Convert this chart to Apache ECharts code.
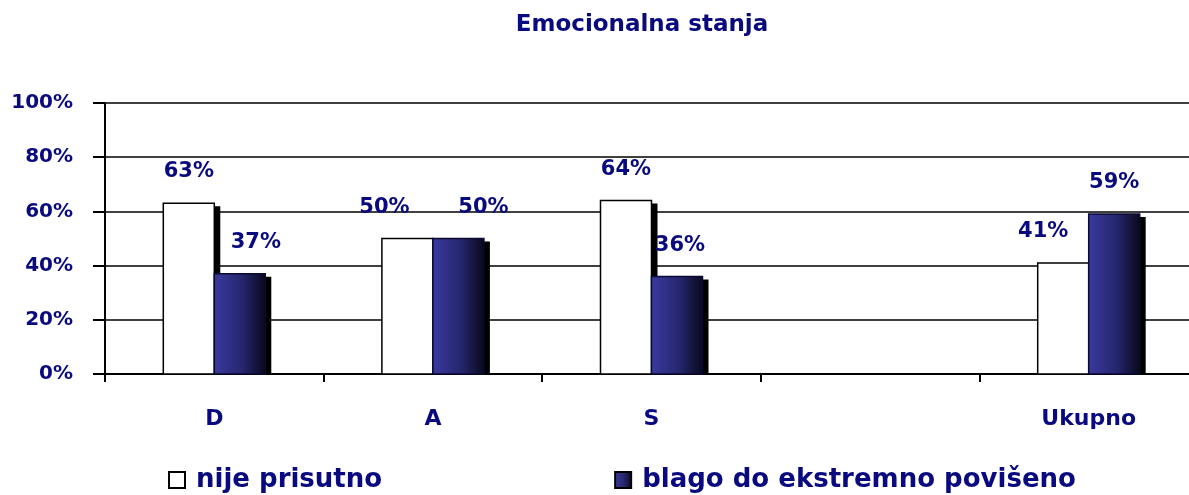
<!DOCTYPE html>
<html>
<head>
<meta charset="utf-8">
<script src="https://cdn.jsdelivr.net/npm/echarts@6/dist/echarts.min.js"></script>
<style>html,body{margin:0;padding:0;background:#fff}#c{width:1189px;height:495px}</style>
</head>
<body>
<div id="c"></div>
<script>
const categories = ['D', 'A', 'S', '', 'Ukupno'];
const nijePrisutno = [63, 50, 64, null, 41];
const blagoDoEkstremno = [37, 50, 36, null, 59];
const seriesNames = ['nije prisutno', 'blago do ekstremno povišeno'];
const yTicks = [0, 20, 40, 60, 80, 100];
const chartTitle = 'Emocionalna stanja';
// label horizontal nudges (style only)
const whiteLabelShift = [0, -23, 0, 0, -20];
const blueLabelShift = [16, 25, 3, 0, 0];

const NAVY = '#0a0a80';
const FONT = '"DejaVu Sans", sans-serif';
const BAR_W = 51;

function blueGrad() {
  return new echarts.graphic.LinearGradient(0, 0, 1, 0, [
    {offset: 0, color: '#3a3a9e'},
    {offset: 0.55, color: '#26266e'},
    {offset: 1, color: '#08081a'}
  ]);
}

function toData(vals) {
  const out = [];
  vals.forEach((v, i) => { if (v != null) out.push([i, v]); });
  return out;
}

function makeRender(seriesIdx, fillFn, stroke, shifts) {
  return function (params, api) {
    const ci = api.value(0), v = api.value(1);
    const top = api.coord([ci, v]);
    const base = api.coord([ci, 0]);
    const x = seriesIdx === 0 ? top[0] - BAR_W : top[0];
    const y = top[1], h = base[1] - top[1];
    return {
      type: 'group',
      children: [
        {type: 'rect', shape: {x: x + 6, y: y + 3, width: BAR_W, height: h - 3},
         style: {fill: '#000'}},
        {type: 'rect', shape: {x: x, y: y, width: BAR_W, height: h},
         style: {fill: fillFn(), stroke: stroke, lineWidth: 1.5},
         textContent: {style: {text: v + '%', fill: NAVY, font: 'bold 21px ' + FONT}},
         textConfig: {position: 'top', distance: 20, offset: [shifts[ci], 0]}}
      ]
    };
  };
}

const chart = echarts.init(document.getElementById('c'), null, {renderer: 'canvas'});
chart.setOption({
  animation: false,
  backgroundColor: '#fff',
  title: {
    text: chartTitle, top: 9, left: 637, textAlign: 'center',
    textStyle: {color: NAVY, fontFamily: FONT, fontWeight: 'bold', fontSize: 23}
  },
  legend: {
    bottom: 2, left: 168, padding: 0, itemGap: 232, itemWidth: 16, itemHeight: 16,
    icon: 'rect',
    textStyle: {color: NAVY, fontFamily: FONT, fontWeight: 'bold', fontSize: 26, padding: [0, 0, 0, 6]},
    data: seriesNames
  },
  grid: {left: 105, top: 103, width: 1093, height: 271, containLabel: false, outerBoundsMode: 'none'},
  xAxis: {
    type: 'category', data: categories,
    axisLine: {lineStyle: {color: '#000', width: 2}},
    axisTick: {show: true, length: 8, lineStyle: {color: '#000', width: 2}},
    axisLabel: {margin: 34, color: NAVY, fontFamily: FONT, fontWeight: 'bold', fontSize: 22}
  },
  yAxis: {
    type: 'value', min: yTicks[0], max: yTicks[yTicks.length - 1], interval: 20,
    axisLine: {show: true, lineStyle: {color: '#000', width: 2}},
    axisTick: {show: true, length: 12, lineStyle: {color: '#000', width: 2}},
    axisLabel: {margin: 32, formatter: '{value}%', color: NAVY, fontFamily: FONT, fontWeight: 'bold', fontSize: 20},
    splitLine: {show: true, lineStyle: {color: '#000', width: 1.5}}
  },
  series: [
    {
      name: seriesNames[0], type: 'custom', data: toData(nijePrisutno),
      encode: {x: 0, y: 1},
      itemStyle: {color: '#fff', borderColor: '#000', borderWidth: 1.5},
      renderItem: makeRender(0, () => '#fff', '#000', whiteLabelShift)
    },
    {
      name: seriesNames[1], type: 'custom', data: toData(blagoDoEkstremno),
      encode: {x: 0, y: 1},
      itemStyle: {color: blueGrad(), borderColor: '#000', borderWidth: 1.5},
      renderItem: makeRender(1, blueGrad, '#0a0a30', blueLabelShift)
    }
  ]
});
</script>
</body>
</html>
